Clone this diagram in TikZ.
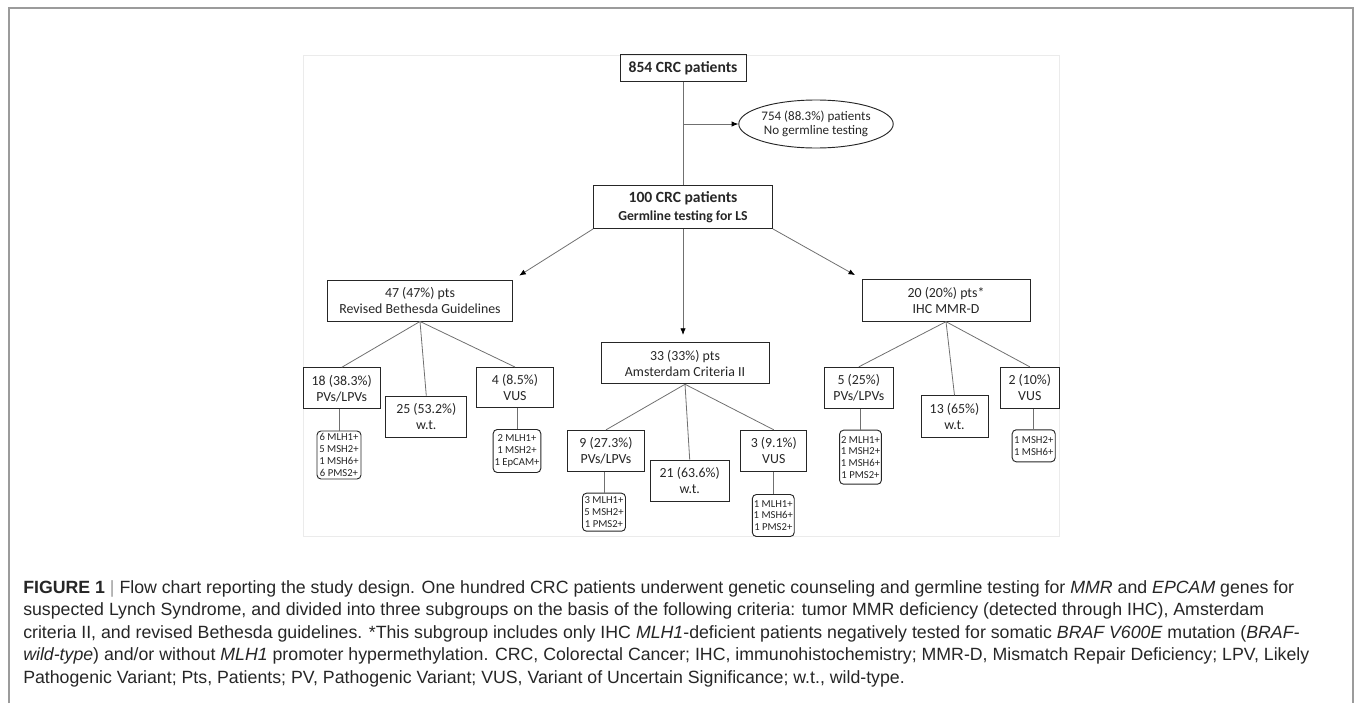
\documentclass[tikz,border=0pt]{standalone}
\usepackage{fontspec}
\setmainfont{Carlito}
\newfontfamily\capfont{Liberation Sans}
\usetikzlibrary{arrows.meta,positioning,shapes.geometric}

\definecolor{framegray}{HTML}{9B9B9B}
\definecolor{panelgray}{HTML}{EBEBEB}
\definecolor{linkgray}{HTML}{707070}
\definecolor{inkgray}{HTML}{262626}

\begin{document}
\begin{tikzpicture}[
    x=0.75pt, y=-0.75pt,
    font=\fontsize{10.4}{12}\selectfont,
    text=inkgray,
    box/.style={draw=inkgray, line width=0.7pt, align=center, inner sep=1pt},
    wd/.style={minimum width=#1*0.75pt},
    ht/.style={minimum height=#1*0.75pt},
    genes/.style={draw=inkgray, line width=0.7pt, rounded corners=3pt, align=center, inner sep=1pt, font=\fontsize{8}{8.8}\selectfont},
    link/.style={draw=linkgray, line width=0.6pt},
    arrow/.style={link, -{Latex[length=5pt,width=4pt,color=black]}},
    caption/.style={anchor=base west, inner sep=0pt, font=\capfont\fontsize{13.3}{16}\selectfont}
]
\useasboundingbox (0,0) rectangle (1355,703);

% ---------- Frames ----------
\draw[framegray, line width=1.1pt] (9,703) -- (9,8) -- (1353,8) -- (1353,703);
\draw[panelgray, line width=0.75pt] (303,55) rectangle (1059,536);

% ---------- Screening ----------
\node[box, wd=126, ht=27, font=\bfseries\fontsize{11.7}{14}\selectfont] (total) at (683,68) {854 CRC patients};
\node[draw=inkgray, line width=0.7pt, ellipse, wd=129, ht=48, inner sep=0pt, align=center, font=\fontsize{9.8}{10.5}\selectfont] (noscreen) at (816,124) {754 (88.3\%) patients\\No germline testing};
\node[box, wd=179, ht=43, font=\bfseries\fontsize{10.3}{13.3}\selectfont] (screen) at (683,207) {{\fontsize{11.7}{13.3}\selectfont 100 CRC patients}\\Germline testing for LS};

% ---------- Subgroups ----------
\node[box, wd=185, ht=41] (bethesda) at (420,300.5) {47 (47\%) pts\\Revised Bethesda Guidelines};
\node[box, wd=168, ht=41] (amsterdam) at (685,363.3) {33 (33\%) pts\\Amsterdam Criteria II};
\node[box, wd=168, ht=42] (ihc) at (946,300.2) {20 (20\%) pts*\\IHC MMR-D};

% ---------- Bethesda results ----------
\node[box, wd=77, ht=41] (bPV) at (341.7,388.3) {18 (38.3\%)\\PVs/LPVs};
\node[box, wd=81, ht=41] (bWT) at (426.3,416.7) {25 (53.2\%)\\w.t.};
\node[box, wd=77, ht=40] (bVUS) at (515,387.5) {4 (8.5\%)\\VUS};
\node[genes, wd=44, ht=48] (bPVg) at (339,455) {6 MLH1+\\5 MSH2+\\1 MSH6+\\6 PMS2+};
\node[genes, wd=45, ht=43] (bVUSg) at (517,451) {2 MLH1+\\1 MSH2+\\1 EpCAM+};

% ---------- Amsterdam results ----------
\node[box, wd=77, ht=41] (aPV) at (606,450.8) {9 (27.3\%)\\PVs/LPVs};
\node[box, wd=79, ht=41] (aWT) at (689.7,480.5) {21 (63.6\%)\\w.t.};
\node[box, wd=66, ht=41] (aVUS) at (773.8,450.8) {3 (9.1\%)\\VUS};
\node[genes, wd=43, ht=38] (aPVg) at (604,512.2) {3 MLH1+\\5 MSH2+\\1 PMS2+};
\node[genes, wd=40, ht=42] (aVUSg) at (773.3,515.5) {1 MLH1+\\1 MSH6+\\1 PMS2+};

% ---------- IHC results ----------
\node[box, wd=69, ht=41] (iPV) at (858.8,387.8) {5 (25\%)\\PVs/LPVs};
\node[box, wd=67, ht=42] (iWT) at (954.5,416.8) {13 (65\%)\\w.t.};
\node[box, wd=59, ht=41] (iVUS) at (1029.8,387.8) {2 (10\%)\\VUS};
\node[genes, wd=39, ht=54] (iPVg) at (860.5,457.2) {2 MLH1+\\1 MSH2+\\1 MSH6+\\1 PMS2+};
\node[genes, wd=43, ht=32] (iVUSg) at (1033.7,445.8) {1 MSH2+\\1 MSH6+};

% ---------- Edges ----------
\draw[link] (total) -- (screen);
\draw[arrow] (total.south |- noscreen.west) -- (noscreen.west);
\draw[arrow, shorten >=5.5pt] (screen.south west) -- (bethesda.north east);
\draw[arrow, shorten >=5.5pt] (screen.south) -- (screen.south |- amsterdam.north);
\draw[arrow, shorten >=5.5pt] (screen.south east) -- (ihc.north west);

\draw[link] (bethesda.south) -- (bPV.north);
\draw[link] (bethesda.south) -- (bWT.north);
\draw[link] (bethesda.south) -- (bVUS.north);
\draw[link] (amsterdam.south) -- (aPV.north);
\draw[link] (amsterdam.south) -- (aWT.north);
\draw[link] (amsterdam.south) -- (aVUS.north);
\draw[link] (ihc.south) -- (iPV.north);
\draw[link] (ihc.south) -- (iWT.north);
\draw[link] (ihc.south) -- (iVUS.north);

\draw[link] (bPVg.north |- bPV.south) -- (bPVg.north);
\draw[link] (bVUSg.north |- bVUS.south) -- (bVUSg.north);
\draw[link] (aPVg.north |- aPV.south) -- (aPVg.north);
\draw[link] (aVUSg.north |- aVUS.south) -- (aVUSg.north);
\draw[link] (iPVg.north |- iPV.south) -- (iPVg.north);
\draw[link] (iVUSg.north |- iVUS.south) -- (iVUSg.north);

% ---------- Caption ----------
\node[caption] (cap1) at (23,593) {\textbf{FIGURE 1} {\color{framegray}|} Flow chart reporting the study design. One hundred CRC patients underwent genetic counseling and germline testing for \textit{MMR} and \textit{EPCAM} genes for};
\node[caption] (cap2) at (23,615.5) {suspected Lynch Syndrome, and divided into three subgroups on the basis of the following criteria: tumor MMR deficiency (detected through IHC), Amsterdam};
\node[caption] (cap3) at (23,638) {criteria II, and revised Bethesda guidelines. *This subgroup includes only IHC \textit{MLH1}-deficient patients negatively tested for somatic \textit{BRAF V600E} mutation (\textit{BRAF-}};
\node[caption] (cap4) at (23,660.5) {\textit{wild-type}) and/or without \textit{MLH1} promoter hypermethylation. CRC, Colorectal Cancer; IHC, immunohistochemistry; MMR-D, Mismatch Repair Deficiency; LPV, Likely};
\node[caption] (cap5) at (23,683) {Pathogenic Variant; Pts, Patients; PV, Pathogenic Variant; VUS, Variant of Uncertain Significance; w.t., wild-type.};
\end{tikzpicture}
\end{document}
